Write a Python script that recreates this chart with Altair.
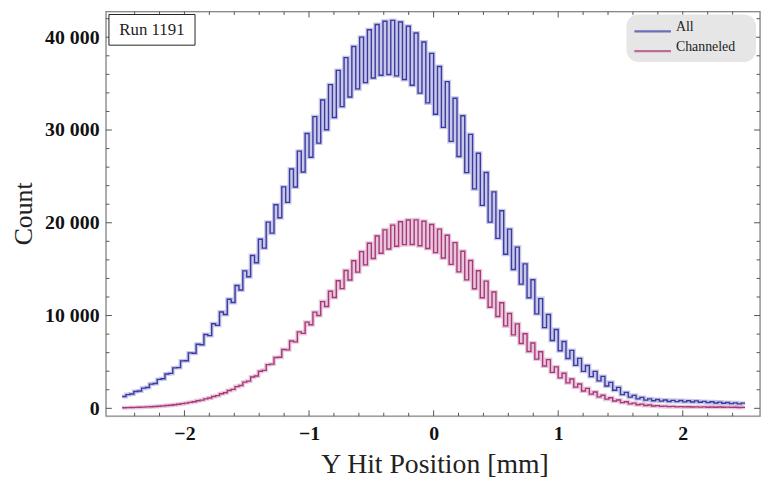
import altair as alt
import pandas as pd

# ---- data: 160 bins of width 1/32 mm from -2.5 to 2.5,
# stored as (first bin, second bin) of each pair of neighbouring bins ----
all_lo = [1280, 1550, 1870, 2250, 2680, 3180, 3760, 4390, 5130, 5940,
          6850, 7840, 8940, 10120, 11400, 12750, 14180, 15690, 17270, 18880,
          20540, 22200, 23860, 25480, 27060, 28590, 30030, 31350, 32520, 33560,
          34430, 35110, 35600, 35900, 35980, 35830, 35450, 34820, 33980, 32920,
          31700, 30290, 28770, 27140, 25410, 23650, 21880, 20070, 18320, 16610,
          14960, 13390, 11920, 10180, 8700, 7310, 6200, 5370, 4630, 3980,
          3420, 2960, 2410, 1940, 1480, 1200, 1020, 880, 810, 780,
          740, 720, 700, 680, 650, 610, 570, 540, 510, 480]
all_hi = [1480, 1810, 2170, 2610, 3120, 3700, 4360, 5110, 5970, 6900,
          7960, 9120, 10380, 11760, 13240, 14810, 16480, 18230, 20070, 21940,
          23870, 25800, 27720, 29620, 31440, 33230, 34890, 36430, 37800, 39000,
          40010, 40810, 41380, 41720, 41820, 41650, 41190, 40460, 39480, 38260,
          36840, 35210, 33430, 31540, 29530, 27490, 25420, 23330, 21290, 19310,
          17380, 15570, 13860, 11830, 10110, 8490, 7200, 6240, 5380, 4620,
          3980, 3440, 2800, 2260, 1720, 1400, 1180, 1020, 950, 900,
          860, 840, 820, 800, 750, 710, 670, 620, 590, 560]
ch_lo = [65, 84, 112, 149, 195, 260, 335, 437, 558, 707,
         884, 1107, 1367, 1674, 2037, 2455, 2930, 3478, 4092, 4762,
         5506, 6305, 7161, 8072, 9012, 9998, 10974, 11950, 12908, 13829,
         14685, 15466, 16145, 16721, 17168, 17475, 17642, 17661, 17521, 17224,
         16787, 16210, 15522, 14713, 13848, 12890, 11913, 10900, 9895, 8882,
         7914, 6984, 6119, 5301, 4566, 3878, 3283, 2744, 2279, 1869,
         1525, 1228, 986, 781, 614, 484, 391, 307, 251, 205,
         177, 158, 149, 139, 130, 121, 121, 112, 102, 93]
ch_hi = [75, 96, 128, 171, 225, 300, 385, 503, 642, 813,
         1017, 1273, 1573, 1926, 2343, 2825, 3371, 4002, 4708, 5478,
         6334, 7255, 8239, 9288, 10368, 11503, 12626, 13750, 14852, 15911,
         16895, 17794, 18575, 19239, 19752, 20105, 20298, 20319, 20159, 19816,
         19314, 18650, 17858, 16927, 15932, 14830, 13707, 12540, 11385, 10219,
         9106, 8036, 7041, 6099, 5254, 4462, 3777, 3157, 2622, 2151,
         1755, 1412, 1134, 899, 706, 556, 449, 353, 289, 235,
         203, 182, 171, 161, 150, 139, 139, 128, 118, 107]

series_names = ["All", "Channeled"]
series_colors = ["#3a3aa4", "#a8387a"]
x_start, bin_w = -2.5, 1 / 32
x_minor_ticks = [-2.4, -2.2, -1.8, -1.6, -1.4, -1.2, -0.8, -0.6, -0.4, -0.2,
                 0.2, 0.4, 0.6, 0.8, 1.2, 1.4, 1.6, 1.8, 2.2, 2.4]
x_major_ticks = [-2, -1, 0, 1, 2]
y_minor_ticks = [2000, 4000, 6000, 8000, 12000, 14000, 16000, 18000, 22000,
                 24000, 26000, 28000, 32000, 34000, 36000, 38000, 42000]
y_major_ticks = [0, 10000, 20000, 30000, 40000]

W, H = 661, 409
FONT = "Liberation Serif"


def interleave(lo, hi):
    out = []
    for a, b in zip(lo, hi):
        out += [a, b]
    return out


rows = []
for name, lo, hi in [("All", all_lo, all_hi), ("Channeled", ch_lo, ch_hi)]:
    counts = interleave(lo, hi)
    counts = counts + [counts[-1]]
    for i, c in enumerate(counts):
        rows.append({"x": x_start + i * bin_w, "count": c, "series": name, "order": i})
df = pd.DataFrame(rows)

xscale = alt.Scale(domain=[-2.63, 2.62], nice=False, zero=False)
yscale = alt.Scale(domain=[-853, 42773], nice=False, zero=False)
cscale = alt.Scale(domain=series_names, range=series_colors)

xaxis = alt.Axis(values=x_major_ticks, ticks=False, grid=False, domain=False,
                 format="d",
                 labelFont=FONT, labelFontSize=20, labelFontWeight="bold",
                 labelColor="#111", labelPadding=8, title="Y Hit Position [mm]",
                 titleFont=FONT, titleFontSize=28, titleFontWeight="normal",
                 titleColor="#222", titleX=332, titleY=49, titleBaseline="middle")
yaxis = alt.Axis(values=y_major_ticks, ticks=False, grid=False, domain=False,
                 labelFont=FONT, labelFontSize=20, labelFontWeight="bold",
                 labelColor="#111", labelPadding=7,
                 labelExpr="replace(format(datum.value, ','), ',', ' ')",
                 title="Count", titleFont=FONT, titleFontSize=26,
                 titleFontWeight="normal", titleColor="#222", titleAngle=-90,
                 titleX=-83, titleY=204, titleAlign="center", titleBaseline="middle")

base = alt.Chart(df)
glow = base.mark_line(interpolate="step-after", strokeWidth=4, opacity=0.28).encode(
    x=alt.X("x:Q", scale=xscale, axis=xaxis),
    y=alt.Y("count:Q", scale=yscale, axis=yaxis),
    color=alt.Color("series:N", scale=cscale, legend=None),
    detail="series:N", order="order:Q")
line = base.mark_line(interpolate="step-after", strokeWidth=1.4).encode(
    x=alt.X("x:Q", scale=xscale), y=alt.Y("count:Q", scale=yscale),
    color=alt.Color("series:N", scale=cscale, legend=None),
    detail="series:N", order="order:Q")

frame = alt.Chart(pd.DataFrame({"a": [0]})).mark_rect(
    fill=None, stroke="#8a8a8a", strokeWidth=1.3).encode(
    x=alt.value(0), x2=alt.value(W), y=alt.value(0), y2=alt.value(H))

def xticks(vals, ln):
    d = pd.DataFrame({"v": vals})
    bot = alt.Chart(d).mark_rule(color="#555", strokeWidth=1).encode(
        x=alt.X("v:Q", scale=xscale), y=alt.value(H), y2=alt.value(H - ln))
    top = alt.Chart(d).mark_rule(color="#555", strokeWidth=1).encode(
        x=alt.X("v:Q", scale=xscale), y=alt.value(0), y2=alt.value(ln))
    return bot + top

def yticks(vals, ln):
    d = pd.DataFrame({"v": vals})
    lft = alt.Chart(d).mark_rule(color="#555", strokeWidth=1).encode(
        y=alt.Y("v:Q", scale=yscale), x=alt.value(0), x2=alt.value(ln))
    rgt = alt.Chart(d).mark_rule(color="#555", strokeWidth=1).encode(
        y=alt.Y("v:Q", scale=yscale), x=alt.value(W), x2=alt.value(W - ln))
    return lft + rgt

# "Run 1191" label box
run_df = pd.DataFrame({"label": ["Run 1191"]})
run_box = alt.Chart(run_df).mark_rect(fill="white", stroke="#222", strokeWidth=1).encode(
    x=alt.value(3), x2=alt.value(90), y=alt.value(3), y2=alt.value(34))
run_text = alt.Chart(run_df).mark_text(font=FONT, fontSize=17, color="#222",
                                       align="center", baseline="middle").encode(
    x=alt.value(46.5), y=alt.value(19), text="label:N")

# legend (rounded grey box, line swatches, labels)
leg_df = pd.DataFrame({"series": series_names})
leg_box = alt.Chart(pd.DataFrame({"a": [0]})).mark_rect(
    fill="#e6e6e6", cornerRadius=12).encode(
    x=alt.value(526), x2=alt.value(657), y=alt.value(3), y2=alt.value(51))
leg_items = []
for i, name in enumerate(series_names):
    d = leg_df[leg_df.series == name]
    leg_items.append(alt.Chart(d).mark_rule(strokeWidth=2.2, opacity=0.7).encode(
        x=alt.value(534), x2=alt.value(571), y=alt.value(20 + 20 * i),
        color=alt.Color("series:N", scale=cscale, legend=None)))
    leg_items.append(alt.Chart(d).mark_text(font=FONT, fontSize=14, color="#222",
                                            align="left", baseline="middle").encode(
        x=alt.value(576), y=alt.value(16 + 19.5 * i), text="series:N"))

chart = alt.layer(
    glow, line, frame,
    xticks(x_minor_ticks, 3.5), xticks(x_major_ticks, 6),
    yticks(y_minor_ticks, 3.5), yticks(y_major_ticks, 6),
    run_box, run_text, leg_box, *leg_items,
).properties(
    width=W, height=H,
    autosize=alt.AutoSizeParams(type="none"),
    padding={"left": 99, "top": 1, "right": 2, "bottom": 72},
).configure_view(stroke=None).configure(background="white")

chart.save("out.html", embed_options={"renderer": "svg", "actions": False})
